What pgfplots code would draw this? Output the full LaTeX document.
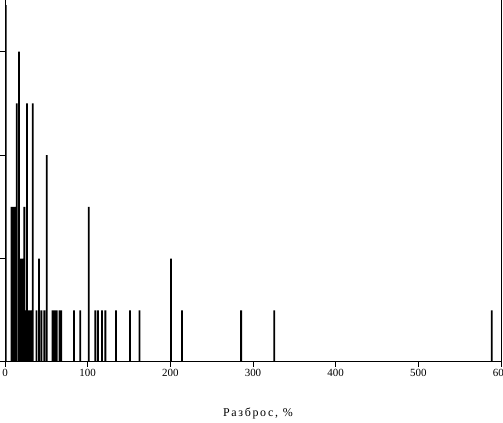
\documentclass[border=0pt]{standalone}
\usepackage{pgfplots}
\pgfplotsset{compat=1.18}
\usepackage{fontspec}
\setmainfont{Liberation Serif}
\begin{document}
\begin{tikzpicture}
\begin{axis}[
  name=ax,
  scale only axis,
  width=496bp, height=362bp,
  xmin=0, xmax=600, ymin=0, ymax=7,
  xtick={0,100,200,300,400,500,600},
  ytick={0,2,4,6}, yticklabels={},
  tick align=outside, tick pos=left,
  major tick length=5bp,
  axis line style={line width=1bp},
  every tick/.style={black, line width=1bp},
  /pgf/number format/assume math mode=true,
  ticklabel style={font=\fontsize{11}{13}\selectfont},
  xticklabel style={inner sep=2bp},
  xlabel={\addfontfeature{LetterSpace=14}Разброс, \%},
  xlabel style={font=\fontsize{12}{14}\selectfont, at={(axis description cs:0.51,0)}, anchor=base, yshift=-55bp},
  ybar, bar width=2.2,
]
\addplot[fill=black, draw=none] coordinates {
(1,6.9) (8,3) (10,3) (12,3) (14.3,5) (17,6) (19.2,2) (21.4,2) (23.4,3)
(25,1) (26.6,5) (29,1) (31,1) (33.5,5) (38,1) (41.2,2) (44,1) (47.6,1)
(50.5,4) (57.5,1) (60,1) (62.5,1) (66,1) (68,1) (83.4,1) (91,1)
(101.4,3) (109.3,1) (112.5,1) (117.4,1) (121.4,1) (134.3,1) (151.3,1)
(162.6,1) (200.8,2) (214,1) (285.6,1) (325.6,1) (588.7,1)
};
\end{axis}
\pgfresetboundingbox
\path ([shift={(-5bp,-61bp)}]ax.south west) rectangle ([shift={(2bp,0bp)}]ax.north east);
\end{tikzpicture}
\end{document}
